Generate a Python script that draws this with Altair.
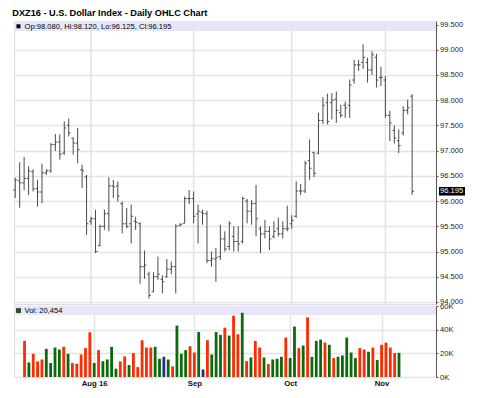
import altair as alt
import pandas as pd

# ---------------- data ----------------
opens = [96.22, 96.40, 96.36, 96.45, 96.58, 96.25, 96.18, 96.56, 96.60, 97.12,
         97.17, 96.95, 97.50, 97.25, 97.15, 96.62, 96.48, 95.60, 95.65, 95.12,
         95.50, 95.75, 96.30, 96.30, 95.95, 95.55, 95.55, 95.60, 95.55, 94.70,
         94.55, 94.20, 94.50, 94.45, 94.50, 94.65, 94.70, 95.52, 95.56, 96.05,
         96.05, 95.75, 95.78, 95.75, 94.82, 94.85, 94.90, 95.25, 95.10, 95.30,
         95.20, 95.20, 96.00, 95.80, 95.95, 95.45, 95.35, 95.40, 95.30, 95.45,
         95.35, 95.45, 95.55, 95.70, 96.20, 96.20, 96.80, 96.96, 96.95, 97.60,
         97.95, 97.95, 98.02, 97.75, 97.90, 97.90, 98.40, 98.70, 98.75, 98.75,
         98.60, 98.85, 98.45, 98.40, 97.70, 97.40, 97.20, 97.35, 97.80, 98.08]
highs = [96.46, 96.77, 96.87, 96.69, 96.63, 96.42, 96.74, 96.63, 97.15, 97.33,
         97.32, 97.58, 97.64, 97.26, 97.45, 96.72, 96.52, 95.69, 95.83, 95.53,
         95.83, 96.47, 96.42, 96.39, 95.99, 95.86, 95.93, 95.69, 95.58, 95.02,
         94.60, 94.59, 94.90, 94.53, 94.85, 94.80, 95.54, 95.56, 96.09, 96.22,
         96.19, 95.93, 95.83, 95.81, 95.00, 95.07, 95.53, 95.40, 95.60, 95.50,
         95.50, 96.09, 96.04, 96.02, 96.32, 95.50, 95.63, 95.50, 95.60, 95.67,
         95.60, 95.91, 95.72, 96.39, 96.34, 96.80, 97.22, 96.98, 97.75, 98.06,
         98.13, 98.14, 98.17, 97.91, 97.97, 98.41, 98.80, 98.80, 99.11, 98.84,
         98.97, 98.92, 98.66, 98.48, 97.79, 97.50, 97.42, 97.88, 98.01, 98.12]
lows = [96.06, 95.87, 96.22, 96.12, 96.19, 95.89, 95.96, 96.52, 96.56, 96.99,
        96.82, 96.92, 97.28, 96.92, 96.75, 96.26, 95.33, 95.53, 94.97, 95.10,
        95.43, 95.40, 96.06, 95.99, 95.36, 95.46, 95.16, 95.43, 94.36, 94.46,
        94.07, 94.20, 94.44, 94.17, 94.48, 94.55, 94.17, 95.50, 95.56, 95.94,
        95.56, 95.16, 95.53, 94.77, 94.70, 94.40, 94.83, 95.00, 95.03, 95.00,
        95.00, 95.16, 95.56, 95.53, 95.30, 94.97, 95.26, 95.03, 95.26, 95.30,
        95.26, 95.40, 95.45, 95.67, 96.12, 96.16, 96.42, 96.48, 96.93, 97.53,
        97.52, 97.62, 97.55, 97.65, 97.65, 97.65, 98.33, 98.58, 98.62, 98.35,
        98.50, 98.25, 98.28, 97.65, 97.19, 97.14, 96.95, 97.30, 97.72, 96.125]
closes = [96.42, 96.36, 96.45, 96.60, 96.24, 96.18, 96.56, 96.60, 97.12, 97.17,
          96.93, 97.45, 97.35, 97.15, 97.02, 96.60, 95.55, 95.65, 95.00, 95.50,
          95.75, 96.30, 96.28, 96.10, 95.55, 95.50, 95.70, 95.58, 94.70, 94.73,
          94.13, 94.50, 94.55, 94.40, 94.65, 94.70, 95.50, 95.54, 96.05, 96.05,
          95.70, 95.80, 95.75, 94.82, 94.86, 94.88, 95.25, 95.05, 95.55, 95.20,
          95.15, 96.05, 95.80, 95.95, 95.65, 95.35, 95.40, 95.25, 95.40, 95.35,
          95.45, 95.45, 95.62, 96.20, 96.20, 96.75, 96.65, 96.55, 97.60, 97.90,
          97.58, 98.00, 97.80, 97.70, 97.85, 98.30, 98.70, 98.70, 98.85, 98.60,
          98.90, 98.40, 98.45, 97.70, 97.55, 97.25, 97.10, 97.80, 97.85, 96.195]

# volume is reported from bar 1 up to bar 87
vol_first_bar = 1
volumes = [30500, 12300, 19600, 13200, 14800, 23800, 11800, 24900, 23200, 25500,
           19600, 11800, 11200, 19000, 24400, 37800, 11800, 22700, 13400, 14800,
           25500, 7000, 13200, 17400, 10100, 20200, 8400, 31100, 24900, 24900,
           25500, 15400, 17100, 14800, 9000, 43400, 19600, 22700, 26000, 20700,
           38000, 6400, 31100, 19000, 38000, 35600, 41700, 35000, 51800, 36100,
           54300, 13400, 16500, 30500, 24900, 16500, 10900, 14800, 15400, 17100,
           33300, 16000, 42600, 24400, 26600, 50400, 17100, 30500, 31600, 29100,
           27200, 16000, 17100, 18200, 33300, 20700, 16000, 24400, 23200, 21300,
           24900, 14300, 27200, 29100, 24900, 20200, 20454]
vol_codes = list("RGRRRGGGGR" "GRRRRRGRGG" "GGRRGRRRRR" "GGBGRGGGRR" "GBRGGGRGRR"
                 "GRGRRGRGGG" "RGGRGRGGGR" "GRGGGGGRRG" "RGRRRRG")
code_names = {"G": "up", "R": "down", "B": "unchanged"}

month_idx = [17, 40, 62, 83]
month_labels = ["Aug 16", "Sep", "Oct", "Nov"]
price_ticks = [94.0, 94.5, 95.0, 95.5, 96.0, 96.5, 97.0, 97.5, 98.0, 98.5, 99.0, 99.5]
vol_ticks = [0, 20000, 40000, 60000]

title_text = "DXZ16 - U.S. Dollar Index - Daily OHLC Chart"

# ---------------- tables ----------------
price_df = pd.DataFrame({
    "i": list(range(len(opens))),
    "open": opens, "high": highs, "low": lows, "close": closes,
})
vol_df = pd.DataFrame({
    "i": [vol_first_bar + k for k in range(len(volumes))],
    "vol": volumes,
    "dir": [code_names[c] for c in vol_codes],
})
month_df = pd.DataFrame({"i": month_idx, "label": month_labels})
header_df = pd.DataFrame({"label": [
    f"Op:{opens[-1]:.3f}, Hi:{highs[-1]:.3f}, Lo:{lows[-1]:.3f}, Cl:{closes[-1]:.3f}"]})
vol_header_df = pd.DataFrame({"label": [f"Vol: {volumes[-1]:,}"]})
last_df = price_df.tail(1)

# ---------------- styling ----------------
W, PH, VH = 422, 283, 71
FONT = "Liberation Sans"
GRID = "#e4e4e4"
BAR = "#4a4a4a"
STRIP = "#e6e6fa"

xscale = alt.Scale(domain=[-0.27, 94.35], nice=False, zero=False)
yscale = alt.Scale(domain=[93.96, 99.57], nice=False, zero=False)
vscale = alt.Scale(domain=[0, 60000], nice=False, zero=True)

label_expr = " : ".join(f"datum.value == {v} ? '{t}'" for v, t in zip(month_idx, month_labels)) + " : ''"
x_vol_axis = alt.Axis(values=month_idx, grid=True, gridColor=GRID, gridWidth=1.6,
                      ticks=False, domain=False, title=None, labelExpr=label_expr,
                      labelFont=FONT, labelFontSize=7.8, labelFontWeight="bold",
                      labelColor="#111", labelPadding=2.5, labelFlush=False,
                      labelOverlap=False)
price_axis = alt.Axis(orient="right", values=price_ticks, format=".3f", title=None,
                      grid=True, gridColor=GRID, gridWidth=1.4, tickSize=2,
                      tickColor="#555", domainColor="#555", labelFont=FONT,
                      labelFontSize=7.6, labelColor="#222", labelPadding=1.5,
                      labelFlush=False, labelOverlap=False, labelBound=False)
vol_axis = alt.Axis(orient="right", values=vol_ticks, title=None,
                    labelExpr="datum.value / 1000 + 'K'", grid=True,
                    gridColor=GRID, gridWidth=1.4, tickSize=2, tickColor="#555",
                    domainColor="#555", labelFont=FONT, labelFontSize=7.6,
                    labelColor="#222", labelPadding=1.5, labelFlush=False,
                    labelOverlap=False)


def X(field):
    return alt.X(field, type="quantitative", scale=xscale, axis=None)


def Y(field):
    return alt.Y(field, type="quantitative", scale=yscale, axis=price_axis)


one = pd.DataFrame({"a": [0]})

strip = alt.Chart(one).mark_rect(color=STRIP).encode(
    x=alt.value(0), x2=alt.value(W), y=alt.value(0), y2=alt.value(10))

vgrid = alt.Chart(month_df).mark_rule(color=GRID, strokeWidth=1.6).encode(
    x=X("i"), y=alt.value(0), y2=alt.value(PH))

base = alt.Chart(price_df).transform_calculate(
    xo="datum.i - 0.42", xc="datum.i + 0.42")
hl = base.mark_rule(color=BAR, strokeWidth=1).encode(
    x=X("i"), y=Y("low"), y2="high")
op = base.mark_rule(color=BAR, strokeWidth=1).encode(
    x=X("xo"), x2="i:Q", y=Y("open"))
cl = base.mark_rule(color=BAR, strokeWidth=1).encode(
    x=X("i"), x2="xc:Q", y=Y("close"))

sq = alt.Chart(one).mark_square(size=16, color="black", opacity=1, filled=True).encode(
    x=alt.value(4.5), y=alt.value(5.3))
head = alt.Chart(header_df).mark_text(align="left", baseline="middle", font=FONT,
                                      fontSize=7.6, color="#000").encode(
    x=alt.value(10.5), y=alt.value(5.5), text="label:N")

last_box = alt.Chart(last_df).transform_calculate(
    yt="datum.close + 0.085", yb="datum.close - 0.085").mark_rect(
    color="black", clip=False).encode(
    x=alt.value(W + 3), x2=alt.value(W + 29), y=Y("yt"), y2="yb:Q")
last_txt = alt.Chart(last_df).transform_calculate(
    lbl="format(datum.close, '.3f')").mark_text(
    align="left", baseline="middle", font=FONT, fontSize=7.6, color="white",
    clip=False).encode(x=alt.value(W + 4), y=Y("close"), text="lbl:N")

price = alt.layer(strip, vgrid, hl, op, cl, sq, head, last_box, last_txt).properties(
    width=W, height=PH)

vstrip = alt.Chart(one).mark_rect(color=STRIP).encode(
    x=alt.value(0), x2=alt.value(W), y=alt.value(0), y2=alt.value(9))
vbars = alt.Chart(vol_df).mark_bar(width=2.8).encode(
    x=alt.X("i:Q", scale=xscale, axis=x_vol_axis),
    y=alt.Y("vol:Q", scale=vscale, axis=vol_axis),
    color=alt.Color("dir:N", scale=alt.Scale(
        domain=["up", "down", "unchanged"],
        range=["#0b6a0b", "#ff2a00", "#26307c"]), legend=None))
vsq = alt.Chart(one).mark_square(size=16, color="#0b6a0b", opacity=1, filled=True,
                                 stroke="black", strokeWidth=0.6).encode(
    x=alt.value(4.5), y=alt.value(4.6))
vhead = alt.Chart(vol_header_df).mark_text(align="left", baseline="middle", font=FONT,
                                           fontSize=7.6, color="#000").encode(
    x=alt.value(10.5), y=alt.value(4.8), text="label:N")

vol = alt.layer(vstrip, vbars, vsq, vhead).properties(width=W, height=VH)

chart = alt.vconcat(
    price, vol, spacing=2, bounds="flush",
    title=alt.TitleParams(title_text, anchor="start", font=FONT, fontSize=9.2,
                          fontWeight="bold", color="#000", offset=2),
).properties(
    padding={"left": 12, "top": 8, "right": 4, "bottom": 4},
    background="white",
).configure_view(stroke="#333", strokeWidth=1).configure(font=FONT)

chart.save("out.html", embed_options={"renderer": "svg", "actions": False})
